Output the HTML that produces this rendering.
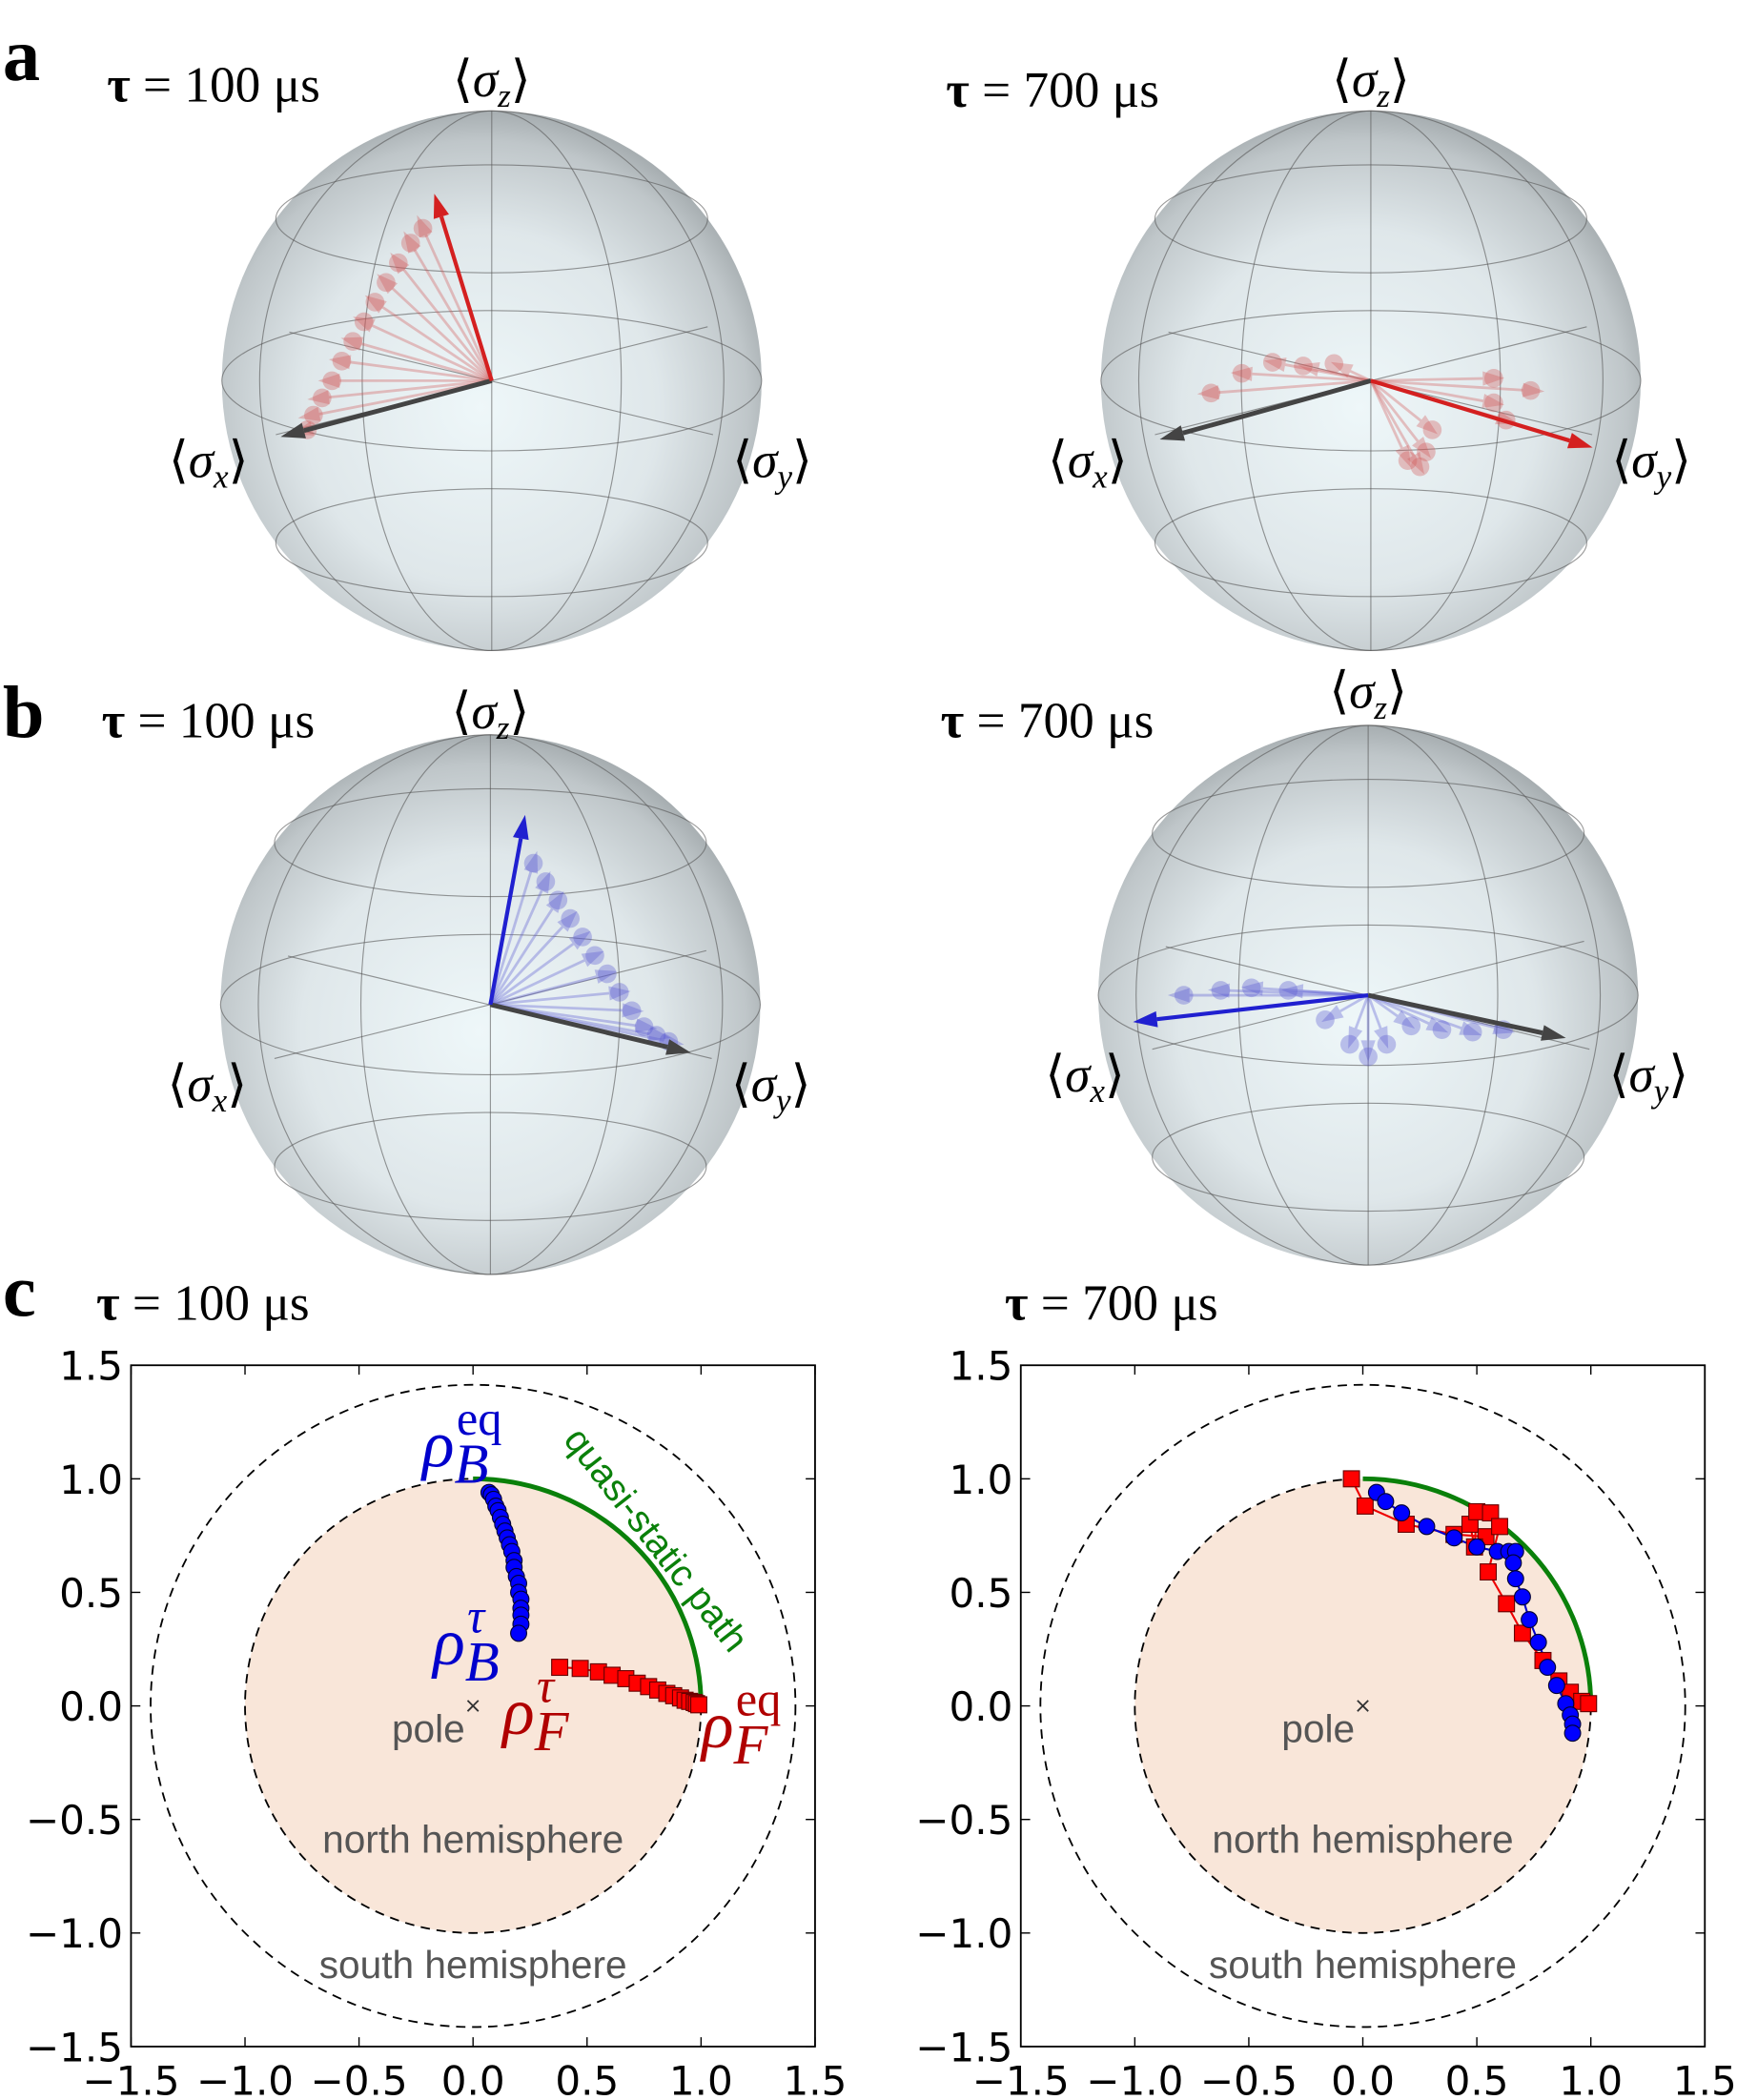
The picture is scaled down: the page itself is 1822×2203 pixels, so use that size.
<!DOCTYPE html>
<html><head><meta charset="utf-8"><style>
html,body{margin:0;padding:0;background:#fff}
svg{display:block}
.tk{font-family:"DejaVu Sans","Liberation Sans",sans-serif;font-size:30px;fill:#000}
.ser{font-family:"Liberation Serif",serif}
.lbl{font-family:"Liberation Sans",sans-serif;font-size:29px;fill:#555}
</style></head><body>
<svg id="fig" width="1822" height="2203" viewBox="0 0 1300 1572" xmlns="http://www.w3.org/2000/svg">
<defs>
<radialGradient id="sg" cx="0.48" cy="0.55" r="0.55">
<stop offset="0" stop-color="#eef7f9"/><stop offset="0.6" stop-color="#dfe7ea"/><stop offset="0.9" stop-color="#bfc6c9"/><stop offset="1" stop-color="#a7aeb1"/>
</radialGradient>
</defs>
<g id="spheres"></g>
<g id="plots"></g>
<text x="2" y="60" class="ser" font-size="56" font-weight="bold">a</text>
<text x="2" y="552" class="ser" font-size="56" font-weight="bold">b</text>
<text x="2" y="985" class="ser" font-size="56" font-weight="bold">c</text>
<text x="80" y="76" class="ser" font-size="38"><tspan font-weight="bold">τ</tspan> = 100 μs</text>
<text x="708" y="80" class="ser" font-size="38"><tspan font-weight="bold">τ</tspan> = 700 μs</text>
<text x="76" y="552" class="ser" font-size="38"><tspan font-weight="bold">τ</tspan> = 100 μs</text>
<text x="704" y="552" class="ser" font-size="38"><tspan font-weight="bold">τ</tspan> = 700 μs</text>
<text x="72" y="988" class="ser" font-size="38"><tspan font-weight="bold">τ</tspan> = 100 μs</text>
<text x="752" y="988" class="ser" font-size="38"><tspan font-weight="bold">τ</tspan> = 700 μs</text>
</svg>
<script>
const tickValues = [-1.5, -1.0, -0.5, 0.0, 0.5, 1.0, 1.5];
const tickLabels = ["\u22121.5", "\u22121.0", "\u22120.5", "0.0", "0.5", "1.0", "1.5"];
const leftBlueX = [0.07,0.08,0.09,0.10,0.11,0.12,0.13,0.14,0.15,0.16,0.17,0.18,0.18,0.19,0.20,0.20,0.21,0.21,0.21,0.21,0.20];
const leftBlueY = [0.94,0.93,0.91,0.88,0.86,0.83,0.80,0.77,0.74,0.71,0.68,0.64,0.61,0.57,0.54,0.50,0.47,0.43,0.40,0.36,0.32];
const leftRedX = [0.38,0.47,0.55,0.61,0.67,0.72,0.77,0.81,0.85,0.88,0.91,0.93,0.95,0.97,0.98,0.99];
const leftRedY = [0.17,0.165,0.15,0.135,0.12,0.10,0.085,0.07,0.055,0.045,0.035,0.025,0.02,0.015,0.01,0.005];
const rightBlueX = [0.06,0.10,0.17,0.28,0.40,0.50,0.59,0.64,0.67,0.66,0.67,0.70,0.73,0.77,0.81,0.85,0.89,0.91,0.92,0.92];
const rightBlueY = [0.94,0.90,0.85,0.79,0.74,0.70,0.68,0.68,0.68,0.63,0.56,0.48,0.38,0.28,0.17,0.09,0.01,-0.04,-0.08,-0.12];
const rightRedX = [-0.05,0.01,0.19,0.40,0.54,0.47,0.49,0.50,0.56,0.60,0.55,0.63,0.70,0.79,0.86,0.91,0.96,0.99];
const rightRedY = [1.0,0.88,0.80,0.755,0.745,0.80,0.70,0.855,0.85,0.79,0.59,0.45,0.32,0.20,0.11,0.06,0.02,0.01];

const NS = "http://www.w3.org/2000/svg";
function mk(tag, attrs, parent){const e=document.createElementNS(NS,tag);for(const k in attrs)e.setAttribute(k,attrs[k]);parent.appendChild(e);return e;}
const plots = document.getElementById('plots');

function drawPlot(name, left, blueX, blueY, redX, redY){
  const top=1022, W=512, H=510;
  const sx = v => left + (v+1.5)/3*W;
  const sy = v => top + (1.5-v)/3*H;
  const g = mk('g',{},plots);
  
  
  const nh = mk('ellipse',{cx:sx(0),cy:sy(0),rx:sx(1)-sx(0),ry:sy(0)-sy(1),fill:'#f9e6d9',stroke:'#000','stroke-width':1.3,'stroke-dasharray':'7 5'},g);
  
  
  const R=1.414;
  const sh = mk('ellipse',{cx:sx(0),cy:sy(0),rx:sx(R)-sx(0),ry:sy(0)-sy(R),fill:'none',stroke:'#000','stroke-width':1.3,'stroke-dasharray':'7 5'},g);
  
  
  const arc = mk('path',{d:`M${sx(0)},${sy(1)} A${sx(1)-sx(0)},${sy(0)-sy(1)} 0 0 1 ${sx(1)},${sy(0)}`,fill:'none',stroke:'#0a800a','stroke-width':3.5},g);
  
  
  const lineOf=(xs,ys,c)=>mk('polyline',{points:xs.map((x,i)=>sx(x)+','+sy(ys[i])).join(' '),fill:'none',stroke:c,'stroke-width':1.5},g);
  const rl=lineOf(redX,redY,'#e00');
  
  
  const bl=lineOf(blueX,blueY,'#00c');
  
  
  redX.forEach((x,i)=>{const s=mk('rect',{x:sx(x)-6,y:sy(redY[i])-6,width:12,height:12,fill:'#f00',stroke:'#600','stroke-width':0.8},g);
    
    });
  blueX.forEach((x,i)=>{const c=mk('circle',{cx:sx(x),cy:sy(blueY[i]),r:6,fill:'#00f',stroke:'#003','stroke-width':0.8},g);
    
    });
  const pm = mk('text',{x:sx(0),y:sy(0)+5,'font-size':16,'text-anchor':'middle',fill:'#333','font-family':'DejaVu Sans,sans-serif'},g);
  pm.textContent='×';
  
  
  const addT=(txt,x,y,nm,anchor)=>{const t=mk('text',{x:x,y:y,class:'lbl','text-anchor':anchor||'middle'},g);t.textContent=txt;
    return t;};
  addT('pole',sx(0)-6,sy(0)+27,'pole-label','end');
  addT('north hemisphere',sx(0),sy(-0.6)+8,'north-hemisphere-label');
  addT('south hemisphere',sx(0),sy(-1.15)+8,'south-hemisphere-label');
  const fr = mk('rect',{x:left,y:top,width:W,height:H,fill:'none',stroke:'#000','stroke-width':1.3},g);
  
  
  tickValues.forEach((v,i)=>{
    mk('line',{x1:sx(v),y1:top+H,x2:sx(v),y2:top+H-7,stroke:'#000'},g);
    mk('line',{x1:sx(v),y1:top,x2:sx(v),y2:top+7,stroke:'#000'},g);
    mk('line',{x1:left,y1:sy(v),x2:left+7,y2:sy(v),stroke:'#000'},g);
    mk('line',{x1:left+W,y1:sy(v),x2:left+W-7,y2:sy(v),stroke:'#000'},g);
    const xt=mk('text',{x:sx(v),y:top+H+36,class:'tk','text-anchor':'middle'},g);xt.textContent=tickLabels[i];
    
    
    const yt=mk('text',{x:left-6,y:sy(v)+11,class:'tk','text-anchor':'end'},g);yt.textContent=tickLabels[i];
    
    
  });
  return {sx,sy,g};
}
const L = drawPlot('plot-c-left',98,leftBlueX,leftBlueY,leftRedX,leftRedY);
const Rp = drawPlot('plot-c-right',764,rightBlueX,rightBlueY,rightRedX,rightRedY);

function rho(g,x,y,color,sub,sup,nm){
  const t=mk('text',{x:x,y:y,fill:color,class:'ser','font-style':'italic','font-size':50},g);
  
  
  const a=mk('tspan',{},t);a.textContent='ρ';
  const b=mk('tspan',{dy:12,'font-size':42},t);b.textContent=sub;
  const c=mk('tspan',{dx:-24,dy:-36,'font-size':36,'font-style':sup==='eq'?'normal':'italic'},t);c.textContent=sup;
}
rho(L.g,316,1098,'#0000cc','B','eq','rho-b-eq-label');
rho(L.g,324,1246,'#0000cc','B','τ','rho-b-tau-label');
rho(L.g,376,1298,'#b00000','F','τ','rho-f-tau-label');
rho(L.g,525,1308,'#b00000','F','eq','rho-f-eq-label');
const qs=mk('text',{x:0,y:0,fill:'#0a800a','font-family':'Liberation Sans,sans-serif','font-size':28,transform:'translate(421,1078) rotate(52)'},L.g);
qs.textContent='quasi-static path';



const sphereCenters = [[368,285],[1026,285],[367,752],[1024,745]];
const SR = 202;
const aLeftFaded = [[-150,40],[-145,28],[-138,14],[-130,0],[-122,-16],[-113,-32],[-104,-48],[-95,-64],[-86,-80],[-76,-96],[-66,-112],[-56,-124]];
const aRightFaded = [[-130,10],[-105,-6],[-80,-15],[-55,-12],[-30,-14],[30,65],[40,70],[45,58],[100,-2],[130,8],[110,32],[50,40],[100,18]];
const bLeftFaded = [[35,-115],[45,-100],[55,-85],[65,-70],[75,-55],[85,-40],[95,-25],[105,-10],[115,5],[125,18],[135,25],[145,30]];
const bRightFaded = [[-150,0],[-120,-4],[-95,-6],[-65,-4],[-35,20],[-15,40],[0,50],[15,40],[35,25],[60,28],[85,30],[110,28]];
const sphereSets = [
  {main:[-43,-140],grey:[-158,42],faded:aLeftFaded,col:'#d42020',fc:'rgba(210,90,90,0.35)'},
  {main:[166,50],grey:[-158,44],faded:aRightFaded,col:'#d42020',fc:'rgba(210,90,90,0.35)'},
  {main:[26,-142],grey:[150,36],faded:bLeftFaded,col:'#2020d0',fc:'rgba(90,90,210,0.35)'},
  {main:[-176,20],grey:[148,32],faded:bRightFaded,col:'#2020d0',fc:'rgba(90,90,210,0.35)'}
];
const sg = document.getElementById('spheres');
function arrow(g,cx,cy,d,color,w,head,nm){
  const x=cx+d[0],y=cy+d[1];const L0=Math.hypot(d[0],d[1]);const ux=d[0]/L0,uy=d[1]/L0;
  const bx=x-ux*head*1.8,by=y-uy*head*1.8;
  mk('line',{x1:cx,y1:cy,x2:bx,y2:by,stroke:color,'stroke-width':w},g);
  const p=mk('polygon',{points:`${x},${y} ${bx-uy*head*0.6},${by+ux*head*0.6} ${bx+uy*head*0.6},${by-ux*head*0.6}`,fill:color},g);
  
  
}
sphereCenters.forEach((c,i)=>{
  const [cx,cy]=c;const g=mk('g',{},sg);
  
  
  mk('circle',{cx,cy,r:SR,fill:'url(#sg)'},g);
  const wl={fill:'none',stroke:'#555','stroke-width':0.8,opacity:0.6};
  mk('ellipse',Object.assign({cx,cy,rx:SR,ry:SR*0.26},wl),g);
  mk('ellipse',Object.assign({cx,cy:cy-SR*0.6,rx:SR*0.8,ry:SR*0.2},wl),g);
  mk('ellipse',Object.assign({cx,cy:cy+SR*0.6,rx:SR*0.8,ry:SR*0.2},wl),g);
  mk('ellipse',Object.assign({cx,cy,rx:SR*0.48,ry:SR},wl),g);
  mk('ellipse',Object.assign({cx,cy,rx:SR*0.86,ry:SR},wl),g);
  mk('line',Object.assign({x1:cx,y1:cy-SR,x2:cx,y2:cy+SR},wl),g);
  mk('line',Object.assign({x1:cx-SR*0.8,y1:cy+SR*0.2,x2:cx+SR*0.8,y2:cy-SR*0.2},wl),g);
  mk('line',Object.assign({x1:cx-SR*0.75,y1:cy-SR*0.18,x2:cx+SR*0.82,y2:cy+SR*0.2},wl),g);
  const s=sphereSets[i];
  s.faded.forEach(d=>{arrow(g,cx,cy,d,s.fc,2,9,'faded-state-arrow');
    mk('circle',{cx:cx+d[0]*0.92,cy:cy+d[1]*0.92,r:7,fill:s.fc},g);});
  arrow(g,cx,cy,s.grey,'#444',3.5,10,'initial-state-arrow');
  arrow(g,cx,cy,s.main,s.col,3,10,'final-state-arrow');
  const lab=(txt,x,y,nm)=>{const t=mk('text',{x,y,class:'ser','font-size':38,'text-anchor':'middle'},g);
    
    t.innerHTML='⟨<tspan font-style="italic">σ</tspan><tspan font-style="italic" font-size="25" dy="8">'+txt+'</tspan><tspan dy="-8">⟩</tspan>';};
  const zy = i<2 ? 72 : (i===2?545:530);
  lab('z',cx,zy,'sigma-z-label');
  lab('x',cx-212,cy+72,'sigma-x-label');
  lab('y',cx+210,cy+72,'sigma-y-label');
});
</script>
</body></html>
